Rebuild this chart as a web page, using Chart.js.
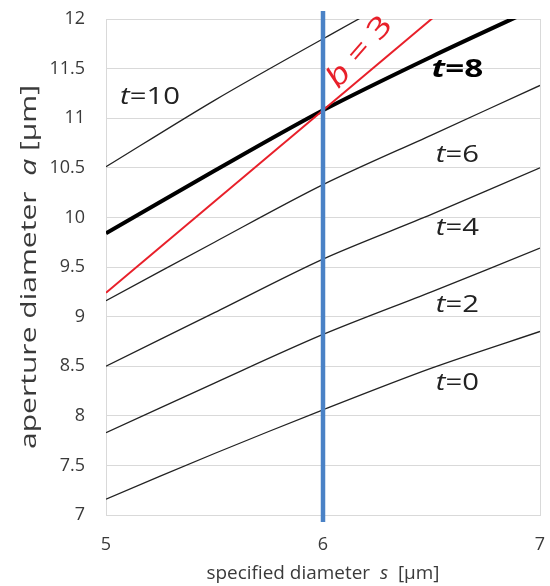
<!DOCTYPE html>
<html>
<head>
<meta charset="utf-8">
<script src="https://cdn.jsdelivr.net/npm/chart.js@4/dist/chart.umd.min.js"></script>
<style>
  html, body { margin: 0; padding: 0; background: #fff; }
  #wrap { width: 550px; height: 586px; }
</style>
</head>
<body>
<div id="wrap"><canvas id="chart" width="550" height="586"></canvas></div>
<script>
// specified diameter s [um]
const sValues = [5, 5.5, 6, 6.5, 7]
// aperture diameter a [um] for each t
const t0 = [7.16, 7.62, 8.06, 8.48, 8.85]
const t2 = [7.83, 8.33, 8.82, 9.25, 9.69]
const t4 = [8.50, 9.04, 9.58, 10.03, 10.50]
const t6 = [9.16, 9.75, 10.33, 10.83, 11.33]
const t8 = [9.84, 10.47, 11.08, 11.62, 12.13]
const t10 = [10.51, 11.18, 11.80, 12.40, 12.95]
// b = 3 line
const b3S = [5, 7]
const b3A = [9.24, 12.92]
// marker at s = 6
const markerS = [6, 6]
const markerA = [6.93, 12.08]

const xTicks = [5, 6, 7]
const yMin = 7, yMax = 12, yStep = 0.5

const FONT = '"Open Sans", "DejaVu Sans", sans-serif'
const TEXT = '#3a3a3a'

function pts(xs, ys) {
  return xs.map((x, i) => ({ x: x, y: ys[i] }))
}

function thin(data) {
  return { data: data, borderColor: '#222', borderWidth: 1.3, order: 3 }
}

// text annotations, placed in data coordinates
const curveLabels = [
  { t: '10', s: 5.065, a: 11.21, bold: false },
  { t: '8', s: 6.50, a: 11.49, bold: true },
  { t: '6', s: 6.52, a: 10.63, bold: false },
  { t: '4', s: 6.52, a: 9.89, bold: false },
  { t: '2', s: 6.52, a: 9.12, bold: false },
  { t: '0', s: 6.52, a: 8.33, bold: false }
]

function setFont(ctx, it, bd, size) {
  ctx.font = (it ? 'italic ' : '') + (bd ? 'bold ' : '') + size + 'px ' + FONT
}

function measureParts(ctx, parts, size) {
  let w = 0
  parts.forEach(([txt, it, bd]) => {
    setFont(ctx, it, bd, size)
    w += ctx.measureText(txt).width
  })
  return w
}

// draws text pieces from (0,0) in the current transform, stretched by sx along the text
function drawParts(ctx, parts, size, sx) {
  ctx.save()
  ctx.scale(sx || 1, 1)
  let cx = 0
  parts.forEach(([txt, it, bd]) => {
    setFont(ctx, it, bd, size)
    ctx.fillText(txt, cx, 0)
    cx += ctx.measureText(txt).width
  })
  ctx.restore()
}

const textPlugin = {
  id: 'texts',
  afterDraw(chart) {
    const ctx = chart.ctx
    const xs = chart.scales.x, ys = chart.scales.y
    const area = chart.chartArea
    ctx.save()
    ctx.textBaseline = 'middle'
    ctx.fillStyle = '#222'

    curveLabels.forEach(l => {
      ctx.save()
      ctx.translate(xs.getPixelForValue(l.s), ys.getPixelForValue(l.a))
      if (l.bold) {
        ctx.fillStyle = '#000'
        drawParts(ctx, [['t', true, true], ['=' + l.t, false, true]], 25, 1.33)
      } else {
        drawParts(ctx, [['t', true, false], ['=' + l.t, false, false]], 24, 1.22)
      }
      ctx.restore()
    })

    // b = 3 along the red line
    ctx.save()
    ctx.translate(xs.getPixelForValue(6.07), ys.getPixelForValue(11.29))
    ctx.rotate(-49 * Math.PI / 180)
    ctx.fillStyle = '#e8202a'
    ctx.textBaseline = 'alphabetic'
    drawParts(ctx, [['b', true, false], [' = 3', false, false]], 29, 1.3)
    ctx.restore()

    // axis titles
    ctx.fillStyle = TEXT
    const xt = [['specified diameter  ', false, false], ['s', true, false], ['  [\u03bcm]', false, false]]
    const wx = measureParts(ctx, xt, 18)
    const kx = 233 / wx
    ctx.save()
    ctx.translate((area.left + area.right) / 2 - 233 / 2, 574)
    drawParts(ctx, xt, 18, kx)
    ctx.restore()

    const yt = [['aperture diameter  ', false, false], ['a', true, false], [' [\u03bcm]', false, false]]
    const wy = measureParts(ctx, yt, 22)
    const ky = 364 / wy
    ctx.save()
    ctx.translate(30, (area.top + area.bottom) / 2 + 364 / 2)
    ctx.rotate(-Math.PI / 2)
    drawParts(ctx, yt, 22, ky)
    ctx.restore()

    ctx.restore()
  }
}

new Chart(document.getElementById('chart'), {
  type: 'scatter',
  data: {
    datasets: [
      { data: pts(markerS, markerA), borderColor: '#4a82c6', borderWidth: 4.5, clip: false, order: 1 },
      { data: pts(b3S, b3A), borderColor: '#e8202a', borderWidth: 2, order: 2 },
      { data: pts(sValues, t8), borderColor: '#000', borderWidth: 4, order: 3 },
      thin(pts(sValues, t10)),
      thin(pts(sValues, t6)),
      thin(pts(sValues, t4)),
      thin(pts(sValues, t2)),
      thin(pts(sValues, t0))
    ].map(d => Object.assign({ showLine: true, pointRadius: 0, tension: 0.3, fill: false }, d))
  },
  options: {
    responsive: false,
    animation: false,
    devicePixelRatio: 1,
    layout: { padding: { left: 0, right: 10, top: 19, bottom: 0 } },
    plugins: { legend: { display: false }, tooltip: { enabled: false } },
    scales: {
      x: {
        type: 'linear',
        min: 5, max: 7,
        afterBuildTicks: s => { s.ticks = xTicks.map(v => ({ value: v })) },
        afterFit: s => { s.height = 71; s.paddingLeft = 0; s.paddingRight = 0 },
        grid: { color: '#d9d9d9', drawTicks: false, lineWidth: 1 },
        border: { color: '#d9d9d9' },
        ticks: { padding: 19, color: TEXT, font: { family: FONT, size: 18 } }
      },
      y: {
        min: yMin, max: yMax,
        afterFit: s => { s.width = 106; s.paddingTop = 0; s.paddingBottom = 0 },
        grid: { color: '#d9d9d9', drawTicks: false, lineWidth: 1 },
        border: { color: '#d9d9d9' },
        ticks: {
          stepSize: yStep, padding: 21, color: TEXT,
          font: { family: FONT, size: 18 },
          callback: v => String(v)
        }
      }
    }
  },
  plugins: [textPlugin]
})
</script>
</body>
</html>
